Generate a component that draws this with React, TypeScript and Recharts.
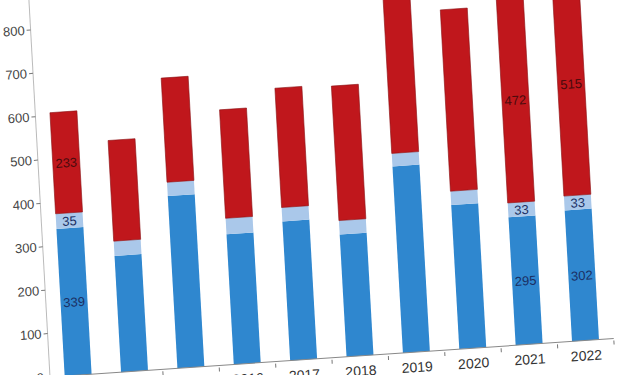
import { Bar, BarChart, LabelList, XAxis, YAxis } from "recharts";

const years = ["2013", "2014", "2015", "2016", "2017", "2018", "2019", "2020", "2021", "2022"];
const blue = [339, 268, 397, 300, 321, 282, 430, 332, 295, 302];
const lightBlue = [35, 34, 32, 37, 32, 32, 30, 32, 33, 33];
const red = [233, 232, 240, 250, 275, 310, 410, 418, 472, 515];
const blueLabels = ["339", "", "", "", "", "", "", "", "295", "302"];
const lightLabels = ["35", "", "", "", "", "", "", "", "33", "33"];
const redLabels = ["233", "", "", "", "", "", "", "", "472", "515"];
const yTicks = [0, 100, 200, 300, 400, 500, 600, 700, 800, 900];

const data = years.map((year, i) => ({
  year,
  blue: blue[i],
  lightBlue: lightBlue[i],
  red: red[i],
  blueLabel: blueLabels[i],
  lightLabel: lightLabels[i],
  redLabel: redLabels[i],
}));

const BAND = 56.5;
const FONT = "'Liberation Sans', Arial, sans-serif";

const segLabel = (color: string) => (props: any) => {
  const { x, y, width, height, value } = props;
  if (!value) return null;
  return (
    <text
      x={Number(x) + Number(width) / 2}
      y={Number(y) + Number(height) / 2}
      dy={5}
      textAnchor="middle"
      fill={color}
      fontSize={13}
      fontFamily={FONT}
    >
      {value}
    </text>
  );
};

// year label + a small tick between categories
const YearTick = (props: any) => {
  const { x, y, payload } = props;
  return (
    <g>
      <line x1={x + BAND / 2} y1={y - 6} x2={x + BAND / 2} y2={y - 2} stroke="#777" />
      <text x={x} y={y + 12} textAnchor="middle" fill="#333" fontSize={14} fontFamily={FONT}>
        {payload.value}
      </text>
    </g>
  );
};

export default function App() {
  return (
    <div
      style={{
        position: "absolute",
        left: 0,
        top: -40,
        width: 633,
        height: 457,
        transform: "rotate(-3.2deg) skewY(-0.7deg)",
        transformOrigin: "50px 417px",
      }}
    >
      <BarChart
        width={633}
        height={457}
        data={data}
        margin={{ top: 26, right: 18, bottom: 10, left: 10 }}
        barCategoryGap="26%"
      >
        <XAxis
          dataKey="year"
          height={30}
          axisLine={{ stroke: "#888" }}
          tickLine={false}
          tick={<YearTick />}
          interval={0}
        />
        <YAxis
          width={40}
          domain={[0, 900]}
          ticks={yTicks}
          axisLine={{ stroke: "#bbb" }}
          tickLine={{ stroke: "#777" }}
          tickSize={4}
          tick={{ fill: "#444", fontSize: 13, fontFamily: FONT }}
        />
        <Bar dataKey="blue" stackId="a" fill="#2f87cf" isAnimationActive={false}>
          <LabelList dataKey="blueLabel" content={segLabel("#1b2f63")} />
        </Bar>
        <Bar dataKey="lightBlue" stackId="a" fill="#aac8ea" isAnimationActive={false}>
          <LabelList dataKey="lightLabel" content={segLabel("#1b2f63")} />
        </Bar>
        <Bar dataKey="red" stackId="a" fill="#c0171c" stroke="#8a1013" strokeWidth={0.6} isAnimationActive={false}>
          <LabelList dataKey="redLabel" content={segLabel("#4a0a0c")} />
        </Bar>
      </BarChart>
    </div>
  );
}
